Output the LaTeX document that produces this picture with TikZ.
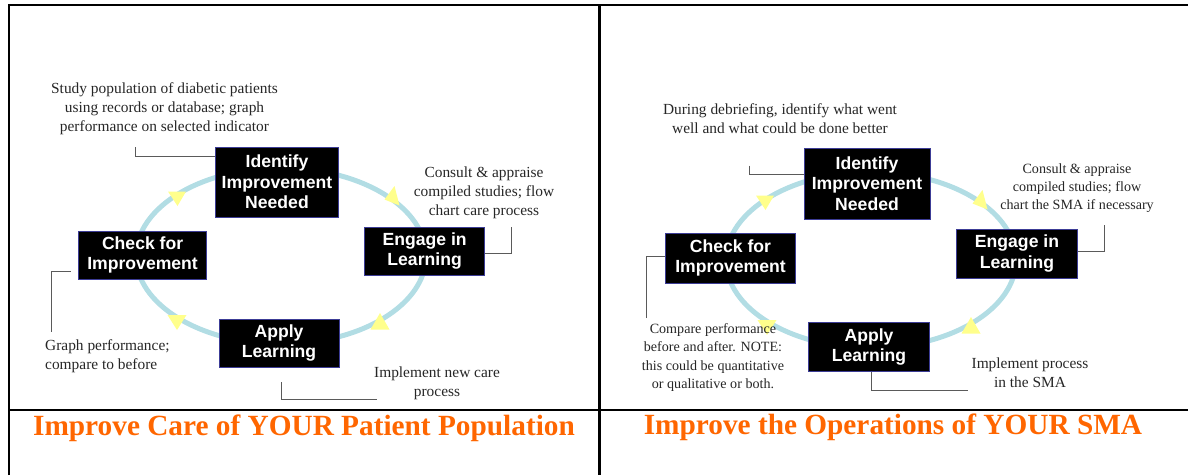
\documentclass[tikz,border=0pt]{standalone}
\usepackage{fontspec}
\setmainfont{Liberation Serif}
\setsansfont{Liberation Sans}
\definecolor{ring}{RGB}{178,221,228}
\definecolor{tri}{RGB}{255,255,140}
\definecolor{boxedge}{RGB}{60,60,150}
\definecolor{lead}{RGB}{90,90,90}
\definecolor{ttl}{RGB}{255,102,0}
\tikzset{
  stepbox/.style={fill=black, draw=boxedge, line width=0.9pt, text=white,
    font=\sffamily\bfseries\fontsize{17.6}{20.5}\selectfont, align=center, inner sep=0pt},
  note/.style={font=\fontsize{15.4}{19}\selectfont, align=center, inner sep=0pt, text=black!85},
  notesm/.style={font=\fontsize{14.1}{18.3}\selectfont, align=center, inner sep=0pt, text=black!85},
  leader/.style={draw=lead, line width=0.7pt},
  ringline/.style={draw=ring, line width=5pt},
  arrtri/.style={fill=tri, draw=none},
  frame/.style={line width=2.6pt, draw=black},
  title/.style={font=\bfseries\fontsize{29.3}{31}\selectfont, text=ttl, inner sep=0pt}
}
\begin{document}
\begin{tikzpicture}[x=1pt,y=-1pt]
\useasboundingbox (0,0) rectangle (1188,475);
% frame
\coordinate (fTL) at (9,5);
\coordinate (fTR) at (1188,5);
\coordinate (fBL) at (9,475);
\coordinate (fML) at (9,410);
\coordinate (fMR) at (1188,410);
\coordinate (fMT) at (599.5,5);
\coordinate (fMB) at (599.5,475);
\draw[frame] (fBL) -- (fTL) -- (fTR);
\draw[frame] (fML) -- (fMR);
\draw[frame] (fMT) -- (fMB);

% ===== left panel =====
\draw[ringline] (281,256) ellipse [x radius=145, y radius=88];
\fill[arrtri] (177,197) ++(-9,-5.5) -- ++(18,0) -- ++(-8.5,14.5) -- cycle;
\fill[arrtri] (393,196) ++(-8.5,3.5) -- ++(10,-13.5) -- ++(5,19.5) -- cycle;
\fill[arrtri] (177,321) ++(-9.5,-6) -- ++(19,0) -- ++(-9.5,15) -- cycle;
\fill[arrtri] (380,322) ++(-9.5,7.5) -- ++(19,0) -- ++(-9.5,-16.5) -- cycle;

\node[stepbox, minimum width=123pt, minimum height=70pt] (idL) at (277,182) {Identify\\Improvement\\Needed};
\node[stepbox, minimum width=128pt, minimum height=48pt] (chL) at (142.6,255) {Check for\\Improvement};
\node[stepbox, minimum width=120pt, minimum height=48pt] (enL) at (424.6,251) {Engage in\\Learning};
\node[stepbox, minimum width=120pt, minimum height=48pt] (apL) at (279,343) {Apply\\Learning};

\node[note] (n1L) at (164.5,108.5) {Study population of diabetic patients\\using records or database; graph\\performance on selected indicator};
\node[note] (n2L) at (484,192.5) {Consult \& appraise\\compiled studies; flow\\chart care process};
\node[note, align=left, anchor=west] (n3L) at (45,356) {Graph performance;\\compare to before};
\node[note] (n4L) at (437,383) {Implement new care\\process};

\coordinate (a1L) at (135,147);
\coordinate (b1L) at (135,156);
\draw[leader] (a1L) -- (b1L) -- (b1L -| idL.west);
\coordinate (a2L) at (511,227);
\coordinate (b2L) at (511,253);
\draw[leader] (a2L) -- (b2L) -- (b2L -| enL.east);
\coordinate (a3L) at (51.7,331.7);
\coordinate (b3L) at (51.7,271);
\coordinate (c3L) at (70.8,271);
\draw[leader] (a3L) -- (b3L) -- (c3L);
\coordinate (a4L) at (281,382);
\coordinate (b4L) at (281,399);
\coordinate (c4L) at (377,399);
\draw[leader] (a4L) -- (b4L) -- (c4L);

\node[title] (tL) at (304,428) {Improve Care of YOUR Patient Population};

% ===== right panel =====
\draw[ringline] (871,260) ellipse [x radius=145, y radius=88];
\fill[arrtri] (765,201) ++(-9,-5.5) -- ++(18,0) -- ++(-8.5,14.5) -- cycle;
\fill[arrtri] (981,200) ++(-8.5,3.5) -- ++(10,-13.5) -- ++(5,19.5) -- cycle;
\fill[arrtri] (767,326) ++(-9.5,-6) -- ++(19,0) -- ++(-9.5,15) -- cycle;
\fill[arrtri] (971,326) ++(-9.5,7.5) -- ++(19,0) -- ++(-9.5,-16.5) -- cycle;

\node[stepbox, minimum width=126pt, minimum height=71pt] (idR) at (867,183.5) {Identify\\Improvement\\Needed};
\node[stepbox, minimum width=130pt, minimum height=50pt] (chR) at (730.5,258) {Check for\\Improvement};
\node[stepbox, minimum width=121pt, minimum height=49pt] (enR) at (1017,253.5) {Engage in\\Learning};
\node[stepbox, minimum width=121pt, minimum height=49pt] (apR) at (869,347) {Apply\\Learning};

\node[note] (n1R) at (780,119) {During debriefing, identify what went\\well and what could be done better};
\node[notesm] (n2R) at (1077,188) {Consult \& appraise\\compiled studies; flow\\chart the SMA if necessary};
\node[notesm] (n3R) at (713,357.5) {Compare performance\\before and after. NOTE:\\this could be quantitative\\or qualitative or both.};
\node[note] (n4R) at (1030,373) {Implement process\\in the SMA};

\coordinate (a1R) at (749,165.7);
\coordinate (b1R) at (749,174);
\draw[leader] (a1R) -- (b1R) -- (b1R -| idR.west);
\coordinate (a2R) at (1104.5,225);
\coordinate (b2R) at (1104.5,251);
\draw[leader] (a2R) -- (b2R) -- (b2R -| enR.east);
\coordinate (a3R) at (646.8,318);
\coordinate (b3R) at (646.8,256);
\draw[leader] (a3R) -- (b3R) -- (b3R -| chR.west);
\coordinate (b4R) at (871.8,390.7);
\coordinate (c4R) at (967.5,390.7);
\draw[leader] (apR.south -| b4R) -- (b4R) -- (c4R);

\node[title] (tR) at (893,427) {Improve the Operations of YOUR SMA};
\end{tikzpicture}
\end{document}
